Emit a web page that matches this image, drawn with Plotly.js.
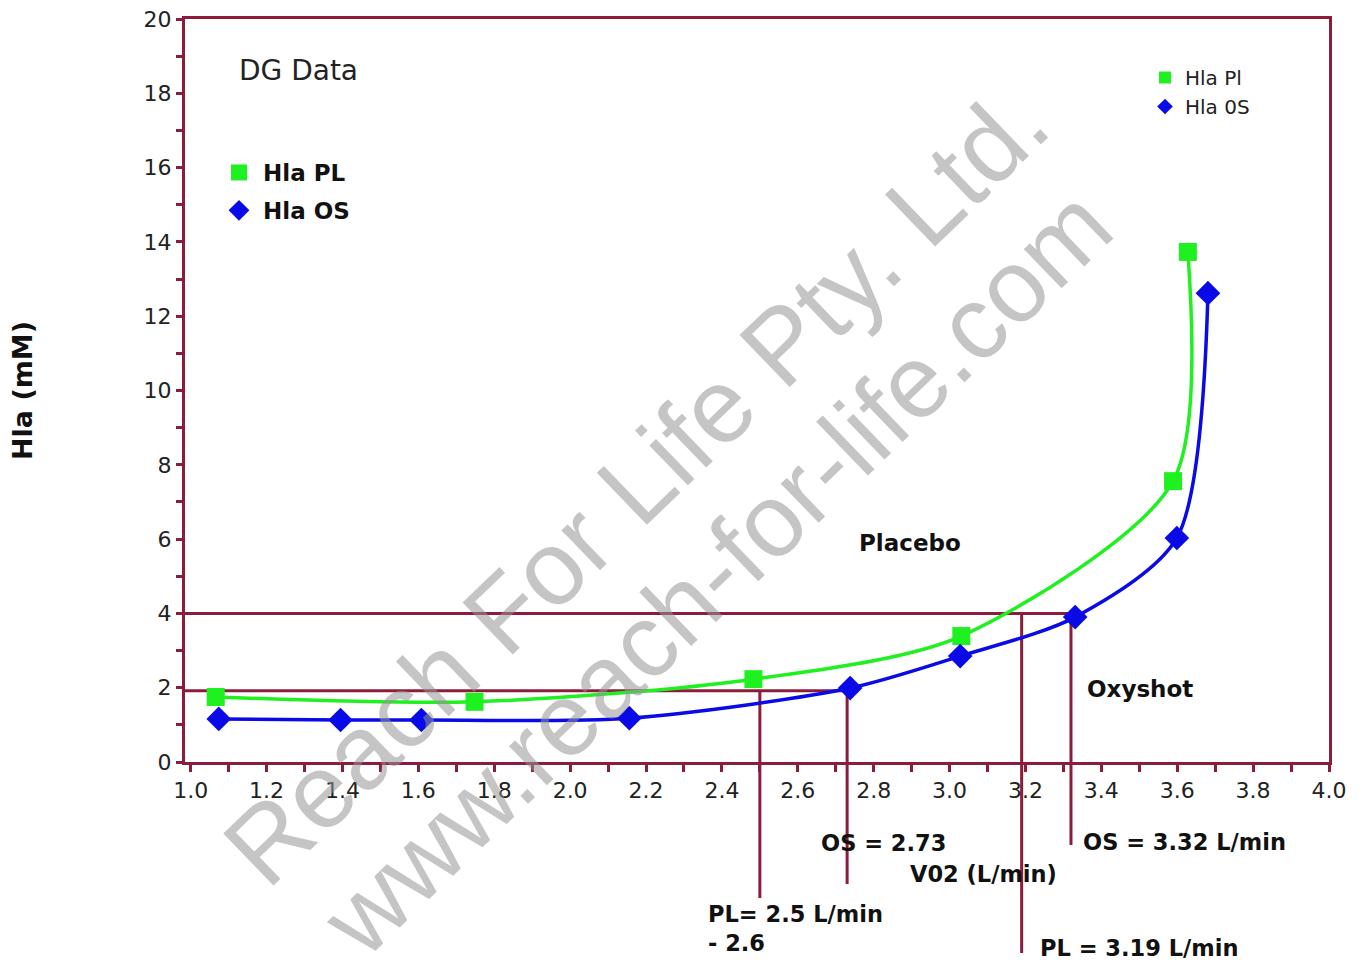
<!DOCTYPE html>
<html>
<head>
<meta charset="utf-8">
<script src="https://cdn.plot.ly/plotly-3.0.1.min.js"></script>
<style>html,body{margin:0;padding:0;background:#fff;}#chart{width:1365px;height:965px;}</style>
</head>
<body>
<div id="chart"></div>
<script>
// ---- data ----
const plX = [1.066, 1.748, 2.483, 3.031, 3.589, 3.628];
const plY = [1.75, 1.62, 2.23, 3.39, 7.56, 13.73];
const osX = [1.074, 1.395, 1.608, 2.156, 2.738, 3.028, 3.331, 3.599, 3.681];
const osY = [1.16, 1.13, 1.13, 1.18, 1.99, 2.85, 3.90, 6.03, 12.62];

const xTickVals = [1.0, 1.2, 1.4, 1.6, 1.8, 2.0, 2.2, 2.4, 2.6, 2.8, 3.0, 3.2, 3.4, 3.6, 3.8, 4.0];
const xTickText = ["1.0", "1.2", "1.4", "1.6", "1.8", "2.0", "2.2", "2.4", "2.6", "2.8", "3.0", "3.2", "3.4", "3.6", "3.8", "4.0"];
const yTickVals = [0, 2, 4, 6, 8, 10, 12, 14, 16, 18, 20];

// thresholds
const lowThreshY = 1.92;   // ~2 mM
const highThreshY = 4.0;   // 4 mM
const plLowX = 2.5, osLowX = 2.73, plHighX = 3.19, osHighX = 3.32;

// ---- layout geometry ----
const X_RANGE = [0.985, 4.0];
const Y_RANGE = [0, 20];
const M = {l: 185, r: 36, t: 19, b: 203};
const W = 1365, H = 965;
const plotH = H - M.t - M.b;
const plotW = W - M.l - M.r;
const pyPix = p => (H - M.b - p) / plotH;     // pixel row -> paper y
const pxPix = p => (p - M.l) / plotW;         // pixel col -> paper x
const yData2Paper = v => (v - Y_RANGE[0]) / (Y_RANGE[1] - Y_RANGE[0]);

const DR = '#8c1c3c';
const GREEN = '#1ff01f';
const BLUE = '#0a0ae6';
const FONT = 'DejaVu Sans, Liberation Sans, Arial, sans-serif';
const WMFONT = 'Liberation Sans, Arial, sans-serif';

const traces = [
  {x: plX, y: plY, mode: 'lines', line: {color: GREEN, width: 3.5, shape: 'spline', smoothing: 0.8}, showlegend: false, hoverinfo: 'skip'},
  {x: osX, y: osY, mode: 'lines', line: {color: BLUE, width: 3.5, shape: 'spline', smoothing: 0.8}, showlegend: false, hoverinfo: 'skip'},
  {x: plX, y: plY, mode: 'markers', name: 'Hla Pl', marker: {symbol: 'square', size: 18, color: GREEN}, legend: 'legend'},
  {x: osX, y: osY, mode: 'markers', name: 'Hla 0S', marker: {symbol: 'diamond', size: 19, color: BLUE}, legend: 'legend'},
  {x: [null], y: [null], mode: 'markers', name: 'Hla PL', marker: {symbol: 'square', size: 16, color: GREEN}, legend: 'legend2', legendgroup: 'a'},
  {x: [null], y: [null], mode: 'markers', name: 'Hla OS', marker: {symbol: 'diamond', size: 16, color: BLUE}, legend: 'legend2', legendgroup: 'b'}
];

const shapes = [
  {type: 'line', xref: 'x', yref: 'y', x0: X_RANGE[0], x1: osHighX, y0: highThreshY, y1: highThreshY},
  {type: 'line', xref: 'x', yref: 'y', x0: X_RANGE[0], x1: osLowX, y0: lowThreshY, y1: lowThreshY},
  {type: 'line', xref: 'x', yref: 'paper', x0: plLowX, x1: plLowX, y0: yData2Paper(lowThreshY), y1: pyPix(898)},
  {type: 'line', xref: 'x', yref: 'paper', x0: osLowX, x1: osLowX, y0: yData2Paper(lowThreshY), y1: pyPix(884)},
  {type: 'line', xref: 'x', yref: 'paper', x0: plHighX, x1: plHighX, y0: yData2Paper(highThreshY), y1: pyPix(953)},
  {type: 'line', xref: 'x', yref: 'paper', x0: osHighX, x1: osHighX, y0: yData2Paper(highThreshY), y1: pyPix(845)}
].map(s => Object.assign(s, {layer: 'below', line: {color: DR, width: 3}}));

const bold = (size) => ({family: FONT, size: size, color: '#111', weight: 'bold'});
const C = {xanchor: 'center', yanchor: 'middle', showarrow: false};
const annotations = [
  Object.assign({text: 'DG Data', xref: 'paper', yref: 'paper', x: pxPix(298), y: pyPix(71), font: {family: FONT, size: 28, color: '#222'}}, C),
  Object.assign({text: 'Placebo', xref: 'paper', yref: 'paper', x: pxPix(910), y: pyPix(543), font: bold(23)}, C),
  Object.assign({text: 'Oxyshot', xref: 'paper', yref: 'paper', x: pxPix(1140), y: pyPix(689), font: bold(23)}, C),
  Object.assign({text: 'V02 (L/min)', xref: 'paper', yref: 'paper', x: pxPix(983), y: pyPix(874), font: bold(22.5)}, C),
  Object.assign({text: 'OS = 2.73', xref: 'x', yref: 'paper', x: osLowX, xshift: 36, y: pyPix(843), font: bold(22.5)}, C),
  Object.assign({text: 'OS = 3.32 L/min', xref: 'x', yref: 'paper', x: osHighX, xshift: 10, y: pyPix(842), font: bold(22.5)}, C, {xanchor: 'left'}),
  Object.assign({text: 'PL = 3.19 L/min', xref: 'x', yref: 'paper', x: plHighX, xshift: 16, y: pyPix(948), font: bold(22.5)}, C, {xanchor: 'left'}),
  Object.assign({text: 'PL= 2.5 L/min<br>- 2.6', xref: 'x', yref: 'paper', x: plLowX, xshift: -54, align: 'left', y: pyPix(929), font: bold(22.5)}, C, {xanchor: 'left'}),
  // watermark
  Object.assign({text: 'Reach For Life Pty. Ltd.', xref: 'paper', yref: 'paper', x: pxPix(635), y: pyPix(485), textangle: -44,
   font: {family: WMFONT, size: 105, color: 'rgba(150,150,150,0.55)'}}, C),
  Object.assign({text: 'www.reach-for-life.com', xref: 'paper', yref: 'paper', x: pxPix(716), y: pyPix(572), textangle: -44,
   font: {family: WMFONT, size: 103, color: 'rgba(150,150,150,0.55)'}}, C)
];

const axisCommon = {
  showline: true, linecolor: DR, linewidth: 3, mirror: true,
  ticks: 'outside', tickcolor: DR, tickwidth: 3, ticklen: 7,
  showgrid: false, zeroline: false,
  tickfont: {family: FONT, size: 22, color: '#222'}
};

const layout = {
  width: W, height: H,
  margin: M,
  paper_bgcolor: '#fff', plot_bgcolor: 'rgba(0,0,0,0)',
  font: {family: FONT},
  xaxis: Object.assign({}, axisCommon, {
    range: X_RANGE, tickvals: xTickVals, ticktext: xTickText,
    minor: {tickvals: [1.1,1.3,1.5,1.7,1.9,2.1,2.3,2.5,2.7,2.9,3.1,3.3,3.5,3.7,3.9], ticks: 'outside', ticklen: 7, tickwidth: 3, tickcolor: DR}
  }),
  yaxis: Object.assign({}, axisCommon, {
    range: Y_RANGE, tickvals: yTickVals, ticklen: 6, ticklabelstandoff: 0,
    minor: {dtick: 1, ticks: 'outside', ticklen: 6, tickwidth: 3, tickcolor: DR},
    title: {text: 'Hla (mM)', font: bold(27), standoff: 104}
  }),
  legend: {x: pxPix(1145), y: pyPix(58), xanchor: 'left', yanchor: 'top', bgcolor: 'rgba(0,0,0,0)',
           font: {family: FONT, size: 20, color: '#222'}, tracegroupgap: 0, itemwidth: 30, itemsizing: 'constant'},
  legend2: {x: pxPix(215), y: pyPix(151), xanchor: 'left', yanchor: 'top', bgcolor: 'rgba(0,0,0,0)',
            font: bold(23), tracegroupgap: 5, itemwidth: 38},
  shapes: shapes,
  annotations: annotations,
  showlegend: true
};

Plotly.newPlot('chart', traces, layout, {displayModeBar: false, staticPlot: true});
</script>
</body>
</html>
